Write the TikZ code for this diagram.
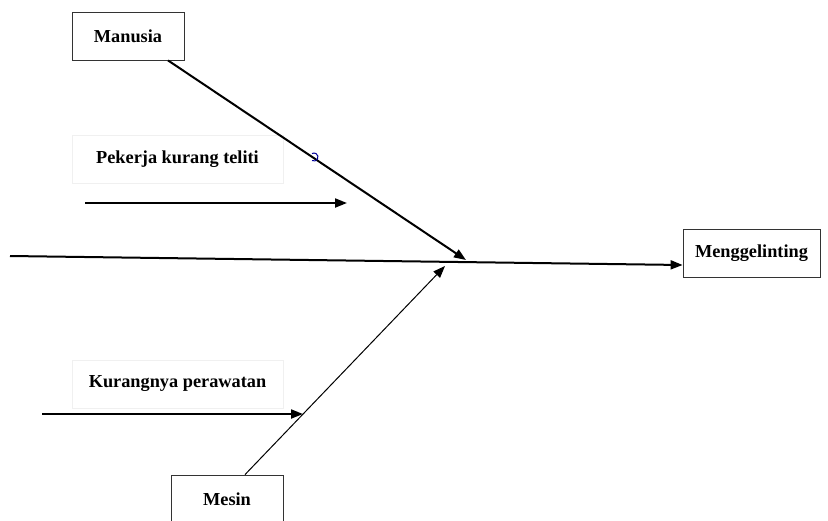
\documentclass[tikz,border=0pt]{standalone}
\usepackage{fontspec}
\setmainfont{Liberation Serif}
\usetikzlibrary{arrows.meta}

\tikzset{
	cause/.style={draw=black!80, line width=0.8pt, fill=white, minimum width=112pt, minimum height=48pt, inner sep=0pt, font=\fontsize{18.3}{22}\selectfont\bfseries},
	sub/.style={draw=black!6, line width=0.6pt, fill=white, minimum width=211pt, minimum height=48pt, inner sep=0pt, font=\fontsize{18.3}{22}\selectfont\bfseries},
	bone/.style={line width=2pt, -{Triangle[length=12pt,width=9pt]}},
	thinbone/.style={line width=1pt, -{Triangle[length=12pt,width=9pt]}},
}

\begin{document}
\begin{tikzpicture}[x=1pt, y=-1pt]
			%%%%% FRAME %%%%%
			\useasboundingbox (0, 0) rectangle (828, 520);
			
			%%%%% BOXES %%%%%
			\node[cause] (manusia) at (128, 36) {Manusia};
			\node[cause] (mesin) at (227, 499) {Mesin};
			\node[cause, minimum width=137pt] (effect) at (751.5, 253) {Menggelinting};
			
			\node[sub] (pekerja) at (177.5, 159) {Pekerja kurang teliti};
			\node[sub] (rawat) at (177.5, 384) {Kurangnya perawatan};
			
			%%%%% POINTS %%%%%
			\coordinate (tail) at (10, 256);
			\coordinate (m1) at (466, 260);
			\coordinate (m2) at (445, 266);
			\coordinate (p1) at (85, 203);
			\coordinate (p2) at (347, 203);
			\coordinate (k1) at (42, 414);
			\coordinate (k2) at (303, 414);
			
			%%%%% BONES %%%%%
			\draw[bone] (tail) -- ([yshift=-12pt]effect.west);
			\draw[bone] ([xshift=40pt]manusia.south) -- (m1);
			\draw[thinbone] ([xshift=18pt]mesin.north) -- (m2);
			
			\draw[bone] (p1) -- (p2);
			\draw[bone] (k1) -- (k2);
			
			\draw[color=blue!60!black, line width=1pt] (312, 160.5) arc[start angle=120, end angle=-120, radius=4];
			
			%%%%% END %%%%%
\end{tikzpicture}
\end{document}
